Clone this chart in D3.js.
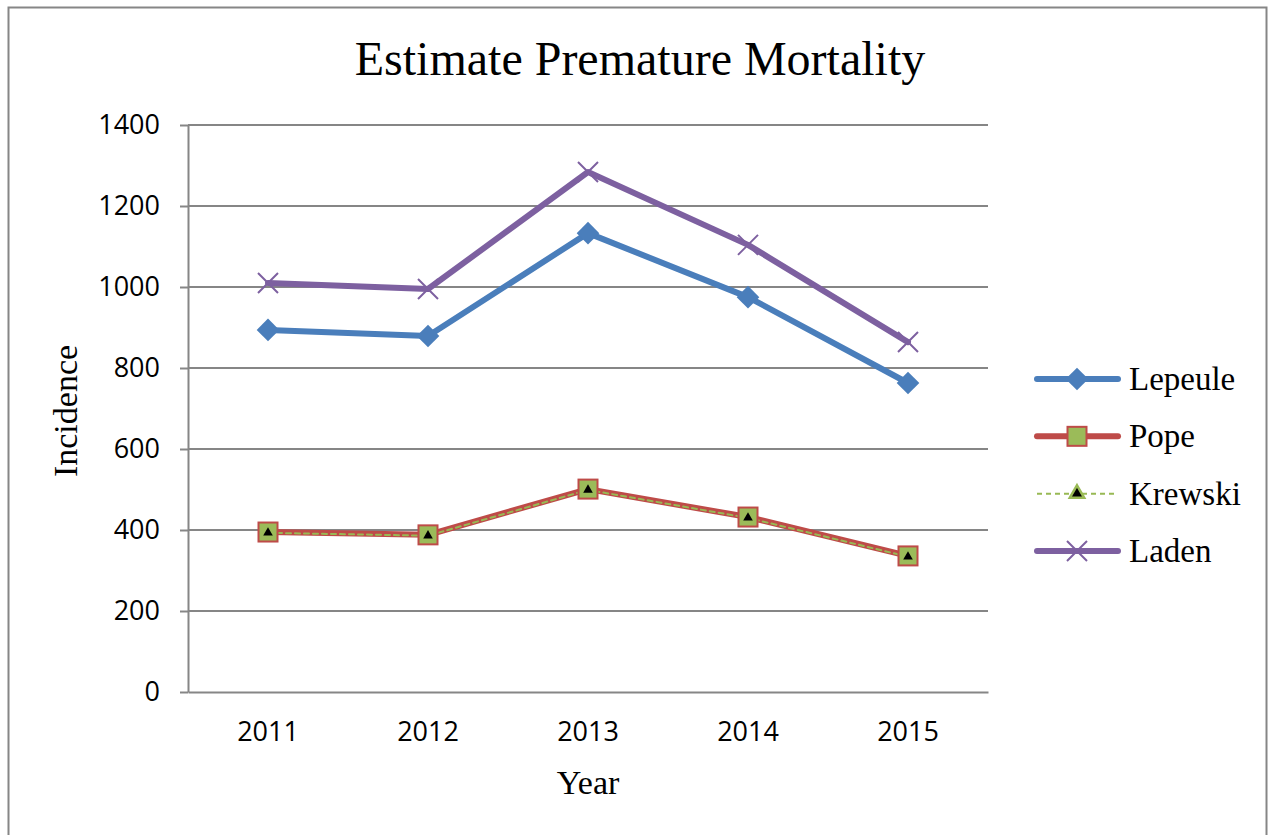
<!doctype html>
<html>
<head>
<title>Estimate Premature Mortality</title>
<script src="https://d3js.org/d3.v7.min.js"></script>
<style>
  body { margin: 0; background: #fff; }
</style>
</head>
<body>
<script>
// chart data
var years = ["2011", "2012", "2013", "2014", "2015"];
var lepeule = [894, 879, 1133, 975, 763];
var pope = [395, 388, 501, 432, 336];
var krewski = [393, 386, 499, 430, 334];
var laden = [1010, 995, 1284, 1104, 864];
var yTicks = [0, 200, 400, 600, 800, 1000, 1200, 1400];
var seriesNames = ["Lepeule", "Pope", "Krewski", "Laden"];

var width = 1270, height = 835;
var plot = {left: 188, right: 988, top: 125, bottom: 692};
var serif = "'Liberation Serif', 'DejaVu Serif', serif";
var sans = "'Open Sans', 'Liberation Sans', sans-serif";

var svg = d3.select("body").append("svg")
    .attr("width", width)
    .attr("height", height);

// outer frame
svg.append("rect")
    .attr("x", 8.5).attr("y", 7.5)
    .attr("width", 1258).attr("height", 840)
    .attr("fill", "#fff")
    .attr("stroke", "#868686")
    .attr("stroke-width", 2);

svg.append("text")
    .attr("x", 640).attr("y", 75)
    .attr("text-anchor", "middle")
    .attr("font-family", serif)
    .attr("font-size", "48px")
    .text("Estimate Premature Mortality");

var x = d3.scaleBand().domain(years).range([plot.left, plot.right]);
var y = d3.scaleLinear().domain([0, 1400]).range([plot.bottom, plot.top]);

// gridlines
svg.append("g").selectAll("line")
    .data(yTicks.slice(1))
    .enter().append("line")
    .attr("x1", plot.left).attr("x2", plot.right)
    .attr("y1", d => y(d)).attr("y2", d => y(d))
    .attr("stroke", "#868686")
    .attr("stroke-width", 2);

var yAxis = svg.append("g")
    .attr("transform", "translate(" + plot.left + ",0)")
    .call(d3.axisLeft(y).tickValues(yTicks).tickFormat(d3.format("d"))
      .tickSize(8).tickPadding(20).tickSizeOuter(0));
yAxis.select(".domain").attr("stroke", "#868686").attr("stroke-width", 2);
yAxis.selectAll(".tick line").attr("stroke", "#868686").attr("stroke-width", 2);
yAxis.selectAll("text").attr("font-family", sans).attr("font-size", "27px").attr("fill", "#000");

var xAxis = svg.append("g")
    .attr("transform", "translate(0," + plot.bottom + ")")
    .call(d3.axisBottom(x).tickSize(0).tickPadding(30).tickSizeOuter(0));
xAxis.select(".domain").attr("stroke", "#868686").attr("stroke-width", 2);
xAxis.selectAll("text").attr("font-family", sans).attr("font-size", "27px").attr("fill", "#000");

svg.append("text")
    .attr("transform", "translate(77,411) rotate(-90)")
    .attr("text-anchor", "middle")
    .attr("font-family", serif)
    .attr("font-size", "34px")
    .text("Incidence");

svg.append("text")
    .attr("x", x("2013") + x.bandwidth() / 2).attr("y", 794)
    .attr("text-anchor", "middle")
    .attr("font-family", serif)
    .attr("font-size", "34px")
    .text("Year");

var cx = d => x(d) + x.bandwidth() / 2;
var line = d3.line().x((d, i) => cx(years[i])).y(d => y(d));

var styles = {
  Lepeule: {color: "#4a7ebb", width: 6, dash: null},
  Pope: {color: "#be4b48", width: 6, dash: null},
  Krewski: {color: "#98b954", width: 2, dash: "5,4"},
  Laden: {color: "#7d60a0", width: 6, dash: null}
};
var seriesData = {Lepeule: lepeule, Pope: pope, Krewski: krewski, Laden: laden};

function drawMarker(g, name, legend) {
  if (name === "Lepeule") {
    g.append("rect").attr("x", -8).attr("y", -8).attr("width", 16).attr("height", 16)
      .attr("transform", "rotate(45)")
      .attr("fill", "#4a7ebb");
  } else if (name === "Pope") {
    g.append("rect").attr("x", -9.5).attr("y", -9.5).attr("width", 19).attr("height", 19)
      .attr("fill", "#9bbb59").attr("stroke", "#be4b48").attr("stroke-width", 2);
  } else if (name === "Krewski") {
    if (legend) {
      g.append("path").attr("d", d3.symbol(d3.symbolTriangle, 90)())
        .attr("fill", "#000").attr("stroke", "#98b954").attr("stroke-width", 2.5);
    } else {
      g.append("path").attr("d", d3.symbol(d3.symbolTriangle, 40)())
        .attr("fill", "#000");
    }
  } else if (name === "Laden") {
    g.append("path").attr("d", "M-10,-10L10,10M-10,10L10,-10")
      .attr("stroke", "#7d60a0").attr("stroke-width", 2).attr("fill", "none");
  }
}

// lines
seriesNames.forEach(function(name) {
  var s = styles[name];
  svg.append("path")
    .datum(seriesData[name])
    .attr("d", line)
    .attr("fill", "none")
    .attr("stroke", s.color)
    .attr("stroke-width", s.width)
    .attr("stroke-linejoin", "round")
    .attr("stroke-linecap", "round")
    .attr("stroke-dasharray", s.dash);
});

// markers (drawn after all lines so Krewski triangles sit on Pope squares)
["Lepeule", "Laden", "Pope", "Krewski"].forEach(function(name) {
  seriesData[name].forEach(function(v, i) {
    var g = svg.append("g")
      .attr("transform", "translate(" + cx(years[i]) + "," + y(v) + ")");
    drawMarker(g, name, false);
  });
});

// legend
var legendY = d3.scalePoint().domain(seriesNames).range([379, 551]);
seriesNames.forEach(function(name) {
  var s = styles[name];
  var ly = legendY(name);
  svg.append("line")
    .attr("x1", 1037).attr("x2", 1118)
    .attr("y1", ly).attr("y2", ly)
    .attr("stroke", s.color)
    .attr("stroke-width", s.width)
    .attr("stroke-linecap", s.dash ? "butt" : "round")
    .attr("stroke-dasharray", s.dash);
  var g = svg.append("g").attr("transform", "translate(1077," + ly + ")");
  drawMarker(g, name, true);
  svg.append("text")
    .attr("x", 1129).attr("y", ly + 11)
    .attr("font-family", serif)
    .attr("font-size", "33px")
    .text(name);
});
</script>
</body>
</html>
